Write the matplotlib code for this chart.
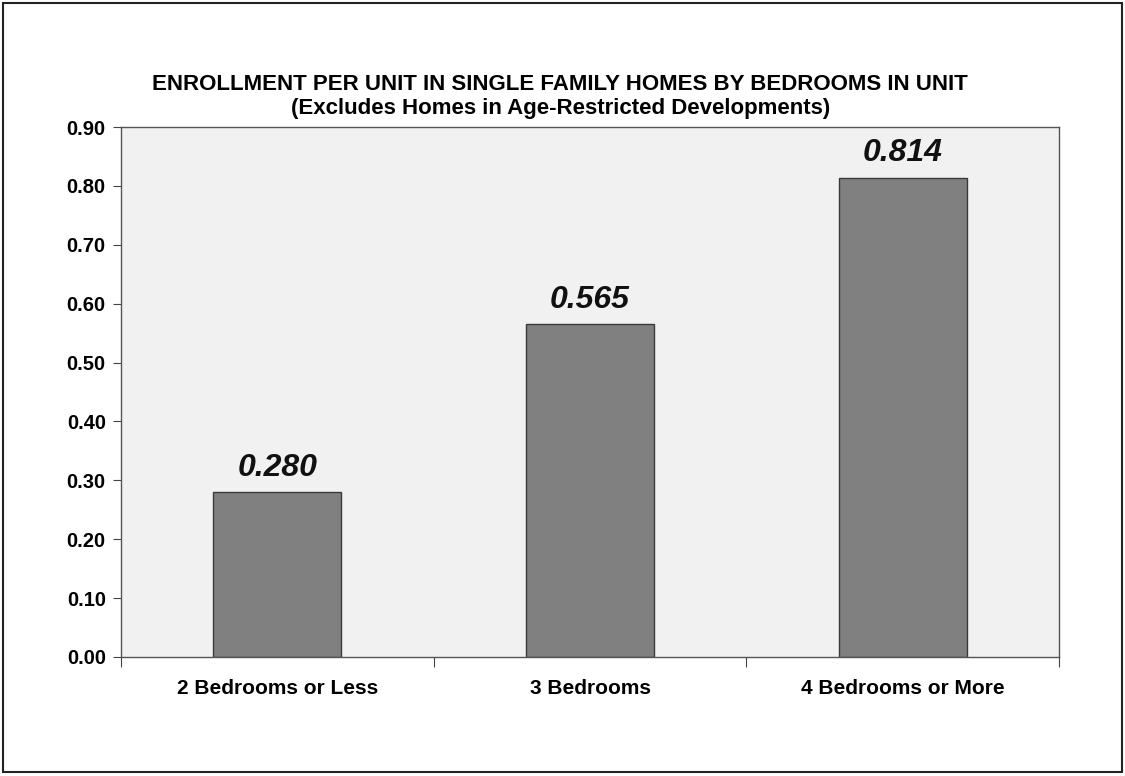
import numpy as np
import matplotlib.pyplot as plt
from matplotlib.patches import Rectangle

plt.rcParams['font.family'] = ['Liberation Sans', 'DejaVu Sans']

categories = ['2 Bedrooms or Less', '3 Bedrooms', '4 Bedrooms or More']
values = [0.280, 0.565, 0.814]
value_labels = ['0.280', '0.565', '0.814']
yticks = [0.0, 0.1, 0.2, 0.3, 0.4, 0.5, 0.6, 0.7, 0.8, 0.9]

fig = plt.figure(figsize=(11.25, 7.76), dpi=100)
ax = fig.add_axes([0.1076, 0.1534, 0.8337, 0.6829])

# outer border round the whole chart
fig.patches.append(Rectangle((0.003, 0.005), 0.994, 0.991, transform=fig.transFigure,
                             fill=False, edgecolor='#222222', linewidth=1.5))

ax.set_facecolor('#f1f1f1')
x = np.arange(len(categories))
ax.bar(x, values, width=0.41, color='#808080', edgecolor='#3a3a3a', linewidth=1.0)

for xi, v, lab in zip(x, values, value_labels):
    ax.text(xi, v + 0.016, lab, ha='center', va='bottom', fontsize=23,
            fontweight='bold', fontstyle='italic', color='#111111')

ax.set_xlim(-0.5, 2.5)
ax.set_ylim(0, 0.9)
ax.set_yticks(yticks)
ax.set_yticklabels(['%.2f' % t for t in yticks], fontsize=14.5, fontweight='bold')
ax.set_xticks([-0.5, 0.5, 1.5, 2.5])
ax.set_xticklabels([])
ax.set_xticks(x, minor=True)
ax.set_xticklabels(categories, minor=True, fontsize=15, fontweight='bold')
ax.tick_params(axis='x', which='minor', length=0, pad=16)
ax.tick_params(axis='x', which='major', length=7, color='#444444')
ax.tick_params(axis='y', length=6, pad=5, color='#444444')

for s in ax.spines.values():
    s.set_color('#555555')
    s.set_linewidth(1.0)

fig.text(0.498, 0.891, 'ENROLLMENT PER UNIT IN SINGLE FAMILY HOMES BY BEDROOMS IN UNIT',
         ha='center', va='center', fontsize=16, fontweight='bold')
fig.text(0.498, 0.860, '(Excludes Homes in Age-Restricted Developments)',
         ha='center', va='center', fontsize=16, fontweight='bold')

fig.savefig('out.png', dpi=100)
